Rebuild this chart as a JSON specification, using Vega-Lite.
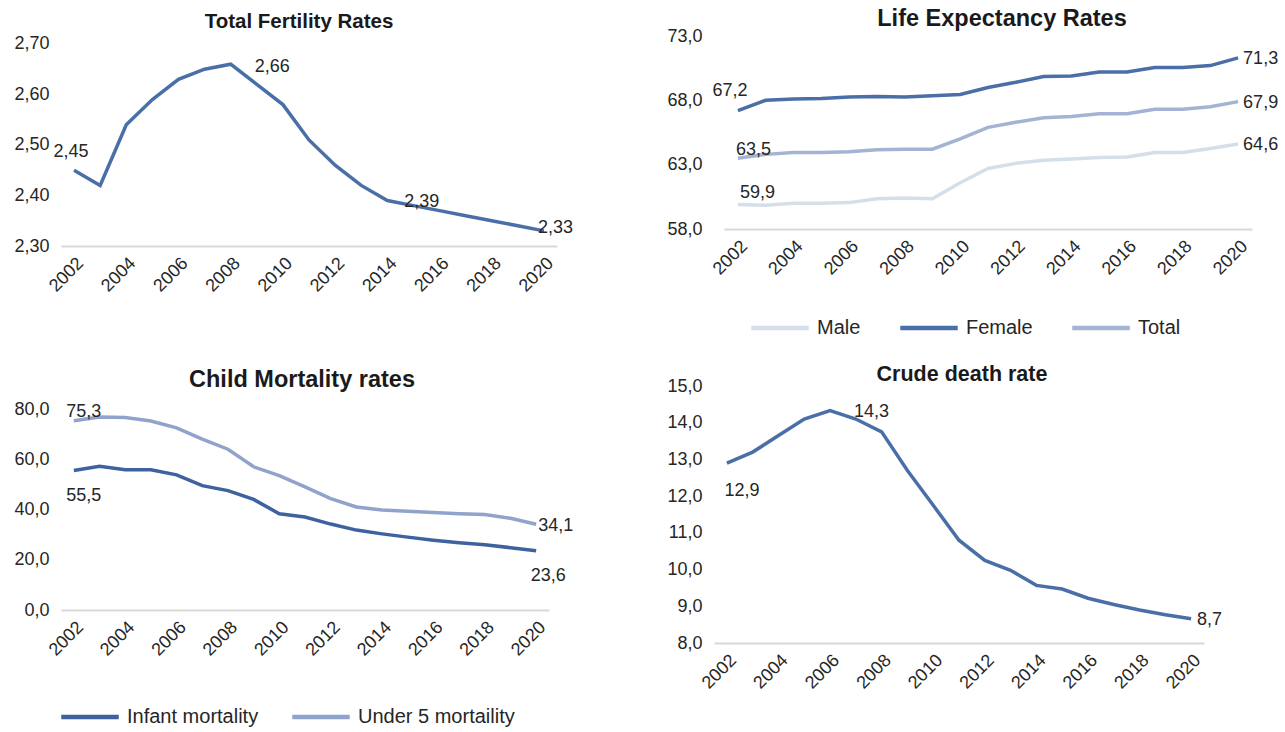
{
  "$schema": "https://vega.github.io/schema/vega-lite/v6.json",
  "padding": {"left": 13, "top": 6, "right": 5, "bottom": 2},
  "background": "white",
  "config": {
    "locale": {"number": {"decimal": ",", "thousands": ".", "grouping": [3], "currency": ["", ""]}},
    "font": "Liberation Sans",
    "view": {"stroke": null},
    "axis": {"labelFont": "Liberation Sans", "labelFontSize": 18, "labelColor": "#262626", "ticks": false, "grid": false, "title": null},
    "axisX": {"domainColor": "#d9d9d9", "domainWidth": 2, "labelAngle": -45, "labelPadding": 8},
    "axisY": {"domain": false, "labelPadding": 12},
    "title": {"font": "Liberation Sans", "fontSize": 20.5, "fontWeight": "bold", "color": "#1a1a1a", "anchor": "middle"},
    "legend": {"labelFont": "Liberation Sans", "labelFontSize": 20, "labelColor": "#262626", "symbolType": "stroke", "symbolSize": 3300, "symbolStrokeWidth": 4.5, "columnPadding": 30, "labelOffset": 6, "direction": "horizontal", "title": null},
    "text": {"font": "Liberation Sans", "fontSize": 18, "color": "#262626"}
  },
  "resolve": {"scale": {"color": "independent"}, "legend": {"color": "independent"}},
  "datasets": {
    "tfr": [
      {"year": 2002, "value": 2.45}, {"year": 2003, "value": 2.42}, {"year": 2004, "value": 2.54},
      {"year": 2005, "value": 2.59}, {"year": 2006, "value": 2.63}, {"year": 2007, "value": 2.65},
      {"year": 2008, "value": 2.66}, {"year": 2009, "value": 2.62}, {"year": 2010, "value": 2.58},
      {"year": 2011, "value": 2.51}, {"year": 2012, "value": 2.46}, {"year": 2013, "value": 2.42},
      {"year": 2014, "value": 2.39}, {"year": 2015, "value": 2.38}, {"year": 2016, "value": 2.37},
      {"year": 2017, "value": 2.36}, {"year": 2018, "value": 2.35}, {"year": 2019, "value": 2.34},
      {"year": 2020, "value": 2.33}
    ],
    "le": [
      {"year": 2002, "series": "Female", "value": 67.2}, {"year": 2003, "series": "Female", "value": 68.0},
      {"year": 2004, "series": "Female", "value": 68.1}, {"year": 2005, "series": "Female", "value": 68.15},
      {"year": 2006, "series": "Female", "value": 68.25}, {"year": 2007, "series": "Female", "value": 68.3},
      {"year": 2008, "series": "Female", "value": 68.25}, {"year": 2009, "series": "Female", "value": 68.35},
      {"year": 2010, "series": "Female", "value": 68.45}, {"year": 2011, "series": "Female", "value": 69.0},
      {"year": 2012, "series": "Female", "value": 69.4}, {"year": 2013, "series": "Female", "value": 69.85},
      {"year": 2014, "series": "Female", "value": 69.9}, {"year": 2015, "series": "Female", "value": 70.2},
      {"year": 2016, "series": "Female", "value": 70.2}, {"year": 2017, "series": "Female", "value": 70.55},
      {"year": 2018, "series": "Female", "value": 70.55}, {"year": 2019, "series": "Female", "value": 70.7},
      {"year": 2020, "series": "Female", "value": 71.3},
      {"year": 2002, "series": "Total", "value": 63.5}, {"year": 2003, "series": "Total", "value": 63.8},
      {"year": 2004, "series": "Total", "value": 63.95}, {"year": 2005, "series": "Total", "value": 63.95},
      {"year": 2006, "series": "Total", "value": 64.0}, {"year": 2007, "series": "Total", "value": 64.15},
      {"year": 2008, "series": "Total", "value": 64.2}, {"year": 2009, "series": "Total", "value": 64.2},
      {"year": 2010, "series": "Total", "value": 65.0}, {"year": 2011, "series": "Total", "value": 65.9},
      {"year": 2012, "series": "Total", "value": 66.3}, {"year": 2013, "series": "Total", "value": 66.65},
      {"year": 2014, "series": "Total", "value": 66.75}, {"year": 2015, "series": "Total", "value": 66.95},
      {"year": 2016, "series": "Total", "value": 66.95}, {"year": 2017, "series": "Total", "value": 67.3},
      {"year": 2018, "series": "Total", "value": 67.3}, {"year": 2019, "series": "Total", "value": 67.5},
      {"year": 2020, "series": "Total", "value": 67.9},
      {"year": 2002, "series": "Male", "value": 59.9}, {"year": 2003, "series": "Male", "value": 59.85},
      {"year": 2004, "series": "Male", "value": 60.0}, {"year": 2005, "series": "Male", "value": 60.0},
      {"year": 2006, "series": "Male", "value": 60.05}, {"year": 2007, "series": "Male", "value": 60.35},
      {"year": 2008, "series": "Male", "value": 60.4}, {"year": 2009, "series": "Male", "value": 60.35},
      {"year": 2010, "series": "Male", "value": 61.6}, {"year": 2011, "series": "Male", "value": 62.7},
      {"year": 2012, "series": "Male", "value": 63.1}, {"year": 2013, "series": "Male", "value": 63.35},
      {"year": 2014, "series": "Male", "value": 63.45}, {"year": 2015, "series": "Male", "value": 63.55},
      {"year": 2016, "series": "Male", "value": 63.6}, {"year": 2017, "series": "Male", "value": 63.95},
      {"year": 2018, "series": "Male", "value": 63.95}, {"year": 2019, "series": "Male", "value": 64.25},
      {"year": 2020, "series": "Male", "value": 64.6}
    ],
    "cm": [
      {"year": 2002, "series": "Infant mortality", "value": 55.5}, {"year": 2003, "series": "Infant mortality", "value": 57.2},
      {"year": 2004, "series": "Infant mortality", "value": 55.8}, {"year": 2005, "series": "Infant mortality", "value": 55.8},
      {"year": 2006, "series": "Infant mortality", "value": 53.8}, {"year": 2007, "series": "Infant mortality", "value": 49.5},
      {"year": 2008, "series": "Infant mortality", "value": 47.5}, {"year": 2009, "series": "Infant mortality", "value": 44.0},
      {"year": 2010, "series": "Infant mortality", "value": 38.3}, {"year": 2011, "series": "Infant mortality", "value": 37.0},
      {"year": 2012, "series": "Infant mortality", "value": 34.2}, {"year": 2013, "series": "Infant mortality", "value": 31.8},
      {"year": 2014, "series": "Infant mortality", "value": 30.3}, {"year": 2015, "series": "Infant mortality", "value": 29.0},
      {"year": 2016, "series": "Infant mortality", "value": 27.8}, {"year": 2017, "series": "Infant mortality", "value": 26.8},
      {"year": 2018, "series": "Infant mortality", "value": 26.0}, {"year": 2019, "series": "Infant mortality", "value": 24.8},
      {"year": 2020, "series": "Infant mortality", "value": 23.6},
      {"year": 2002, "series": "Under 5 mortaility", "value": 75.3}, {"year": 2003, "series": "Under 5 mortaility", "value": 76.8},
      {"year": 2004, "series": "Under 5 mortaility", "value": 76.6}, {"year": 2005, "series": "Under 5 mortaility", "value": 75.2},
      {"year": 2006, "series": "Under 5 mortaility", "value": 72.5}, {"year": 2007, "series": "Under 5 mortaility", "value": 68.0},
      {"year": 2008, "series": "Under 5 mortaility", "value": 64.0}, {"year": 2009, "series": "Under 5 mortaility", "value": 57.0},
      {"year": 2010, "series": "Under 5 mortaility", "value": 53.5}, {"year": 2011, "series": "Under 5 mortaility", "value": 49.0},
      {"year": 2012, "series": "Under 5 mortaility", "value": 44.3}, {"year": 2013, "series": "Under 5 mortaility", "value": 41.0},
      {"year": 2014, "series": "Under 5 mortaility", "value": 39.8}, {"year": 2015, "series": "Under 5 mortaility", "value": 39.3},
      {"year": 2016, "series": "Under 5 mortaility", "value": 38.8}, {"year": 2017, "series": "Under 5 mortaility", "value": 38.3},
      {"year": 2018, "series": "Under 5 mortaility", "value": 38.0}, {"year": 2019, "series": "Under 5 mortaility", "value": 36.5},
      {"year": 2020, "series": "Under 5 mortaility", "value": 34.1}
    ],
    "cdr": [
      {"year": 2002, "value": 12.9}, {"year": 2003, "value": 13.2}, {"year": 2004, "value": 13.65},
      {"year": 2005, "value": 14.1}, {"year": 2006, "value": 14.33}, {"year": 2007, "value": 14.1},
      {"year": 2008, "value": 13.75}, {"year": 2009, "value": 12.7}, {"year": 2010, "value": 11.75},
      {"year": 2011, "value": 10.8}, {"year": 2012, "value": 10.25}, {"year": 2013, "value": 9.98},
      {"year": 2014, "value": 9.57}, {"year": 2015, "value": 9.47}, {"year": 2016, "value": 9.22},
      {"year": 2017, "value": 9.05}, {"year": 2018, "value": 8.9}, {"year": 2019, "value": 8.77},
      {"year": 2020, "value": 8.66}
    ]
  },
  "columns": 2,
  "align": "none",
  "spacing": 92,
  "concat": [
    {
      "columns": 1,
      "align": "none",
      "spacing": 71,
      "resolve": {"scale": {"color": "independent"}, "legend": {"color": "independent"}},
      "concat": [
        {
          "title": {"text": "Total Fertility Rates", "offset": 2, "dx": -10},
          "width": 496, "height": 210,
          "data": {"name": "tfr"},
          "encoding": {
            "x": {"field": "year", "type": "ordinal", "scale": {"type": "point", "padding": 0.5}, "axis": {"values": [2002, 2004, 2006, 2008, 2010, 2012, 2014, 2016, 2018, 2020]}},
            "y": {"field": "value", "type": "quantitative", "scale": {"domain": [2.3, 2.7158]}, "axis": {"values": [2.3, 2.4, 2.5, 2.6, 2.7], "format": ".2f"}}
          },
          "layer": [
            {"mark": {"type": "line", "color": "#4a6fa8", "strokeWidth": 3.5}},
            {"transform": [{"filter": "datum.year == 2002"}], "mark": {"type": "text", "dx": -3, "dy": -18}, "encoding": {"text": {"field": "value", "format": ".2f"}}},
            {"transform": [{"filter": "datum.year == 2008"}], "mark": {"type": "text", "align": "left", "dx": 24, "dy": 3}, "encoding": {"text": {"field": "value", "format": ".2f"}}},
            {"transform": [{"filter": "datum.year == 2014"}], "mark": {"type": "text", "align": "left", "dx": 17, "dy": 1}, "encoding": {"text": {"field": "value", "format": ".2f"}}},
            {"transform": [{"filter": "datum.year == 2020"}], "mark": {"type": "text", "align": "left", "dx": -6, "dy": -3}, "encoding": {"text": {"field": "value", "format": ".2f"}}}
          ]
        },
        {
          "title": {"text": "Child Mortality rates", "offset": 9, "dx": -3, "fontSize": 23.5},
          "width": 488, "height": 201,
          "data": {"name": "cm"},
          "encoding": {
            "x": {"field": "year", "type": "ordinal", "scale": {"type": "point", "padding": 0.5}, "axis": {"values": [2002, 2004, 2006, 2008, 2010, 2012, 2014, 2016, 2018, 2020]}},
            "y": {"field": "value", "type": "quantitative", "scale": {"domain": [0, 80]}, "axis": {"values": [0, 20, 40, 60, 80], "format": ".1f"}}
          },
          "layer": [
            {"mark": {"type": "line", "strokeWidth": 3.5}, "encoding": {"color": {"field": "series", "type": "nominal", "scale": {"domain": ["Infant mortality", "Under 5 mortaility"], "range": ["#3e62a0", "#8fa3cc"]}, "legend": {"orient": "none", "legendX": -2, "legendY": 277, "columnPadding": 24}}}},
            {"transform": [{"filter": "datum.year == 2002 && datum.series == 'Under 5 mortaility'"}], "mark": {"type": "text", "dx": 10, "dy": -9}, "encoding": {"text": {"field": "value", "format": ".1f"}}},
            {"transform": [{"filter": "datum.year == 2002 && datum.series == 'Infant mortality'"}], "mark": {"type": "text", "dx": 10, "dy": 25}, "encoding": {"text": {"field": "value", "format": ".1f"}}},
            {"transform": [{"filter": "datum.year == 2020 && datum.series == 'Under 5 mortaility'"}], "mark": {"type": "text", "align": "left", "dx": 2, "dy": 2}, "encoding": {"text": {"field": "value", "format": ".1f"}}},
            {"transform": [{"filter": "datum.year == 2020 && datum.series == 'Infant mortality'"}], "mark": {"type": "text", "dx": 12, "dy": 25}, "encoding": {"text": {"field": "value", "format": ".1f"}}}
          ]
        }
      ]
    },
    {
      "columns": 1,
      "align": "none",
      "spacing": 25,
      "resolve": {"scale": {"color": "independent"}, "legend": {"color": "independent"}},
      "concat": [
        {
          "title": {"text": "Life Expectancy Rates", "offset": -3, "dx": 19, "fontSize": 23.5},
          "width": 538, "height": 193,
          "data": {"name": "le"},
          "encoding": {
            "x": {"field": "year", "type": "ordinal", "scale": {"type": "point", "padding": 0.5, "range": [10, 538]}, "axis": {"values": [2002, 2004, 2006, 2008, 2010, 2012, 2014, 2016, 2018, 2020]}},
            "y": {"field": "value", "type": "quantitative", "scale": {"domain": [58, 73]}, "axis": {"values": [58, 63, 68, 73], "format": ".1f"}}
          },
          "layer": [
            {"mark": {"type": "line", "strokeWidth": 3.5}, "encoding": {"color": {"field": "series", "type": "nominal", "scale": {"domain": ["Male", "Female", "Total"], "range": ["#d5dfea", "#4a6fa8", "#a3b3d3"]}, "legend": {"orient": "none", "legendX": 35, "legendY": 261}}}},
            {"transform": [{"filter": "datum.year == 2002 && datum.series == 'Female'"}], "mark": {"type": "text", "dx": -8, "dy": -20}, "encoding": {"text": {"field": "value", "format": ".1f"}}},
            {"transform": [{"filter": "datum.year == 2002 && datum.series == 'Total'"}], "mark": {"type": "text", "align": "left", "dx": -2, "dy": -8}, "encoding": {"text": {"field": "value", "format": ".1f"}}},
            {"transform": [{"filter": "datum.year == 2002 && datum.series == 'Male'"}], "mark": {"type": "text", "align": "left", "dx": 2, "dy": -12}, "encoding": {"text": {"field": "value", "format": ".1f"}}},
            {"transform": [{"filter": "datum.year == 2020"}], "mark": {"type": "text", "align": "left", "dx": 5, "dy": 1}, "encoding": {"text": {"field": "value", "format": ".1f"}}}
          ]
        },
        {
          "title": {"text": "Crude death rate", "offset": -8, "dx": 3, "fontSize": 21.5},
          "width": 490, "height": 257,
          "data": {"name": "cdr"},
          "encoding": {
            "x": {"field": "year", "type": "ordinal", "scale": {"type": "point", "padding": 0.5}, "axis": {"values": [2002, 2004, 2006, 2008, 2010, 2012, 2014, 2016, 2018, 2020]}},
            "y": {"field": "value", "type": "quantitative", "scale": {"domain": [8, 15]}, "axis": {"values": [8, 9, 10, 11, 12, 13, 14, 15], "format": ".1f"}}
          },
          "layer": [
            {"mark": {"type": "line", "color": "#4a6fa8", "strokeWidth": 3.5}},
            {"transform": [{"filter": "datum.year == 2002"}], "mark": {"type": "text", "dx": 15, "dy": 28}, "encoding": {"text": {"field": "value", "format": ".1f"}}},
            {"transform": [{"filter": "datum.year == 2006"}], "mark": {"type": "text", "align": "left", "dx": 24, "dy": 1}, "encoding": {"text": {"field": "value", "format": ".1f"}}},
            {"transform": [{"filter": "datum.year == 2020"}], "mark": {"type": "text", "align": "left", "dx": 6, "dy": 1}, "encoding": {"text": {"field": "value", "format": ".1f"}}}
          ]
        }
      ]
    }
  ]
}
